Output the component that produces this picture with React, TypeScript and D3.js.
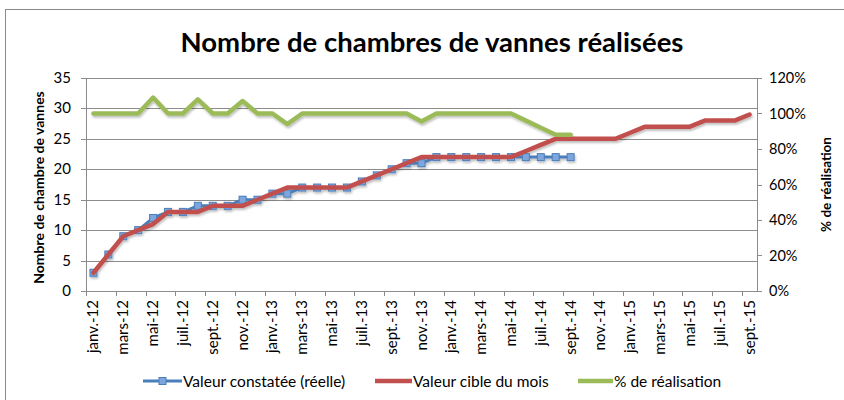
import React from "react";
import * as d3 from "d3";

const MONTHS = ["janv.", "févr.", "mars", "avr.", "mai", "juin", "juil.", "août", "sept.", "oct.", "nov.", "déc."];
const YEARS = ["12", "13", "14", "15"];
const N_MONTHS = 45;
const categories: string[] = [];
for (let i = 0; i < N_MONTHS; i++) categories.push(`${MONTHS[i % 12]}-${YEARS[Math.floor(i / 12)]}`);

const reelle = [3, 6, 9, 10, 12, 13, 13, 14, 14, 14, 15, 15, 16, 16, 17, 17, 17, 17, 18, 19, 20, 21, 21, 22, 22, 22, 22, 22, 22, 22, 22, 22, 22];
const cible = [3, 6, 9, 10, 11, 13, 13, 13, 14, 14, 14, 15, 16, 17, 17, 17, 17, 17, 18, 19, 20, 21, 22, 22, 22, 22, 22, 22, 22, 23, 24, 25, 25, 25, 25, 25, 26, 27, 27, 27, 27, 28, 28, 28, 29];
const realisation = [1.0, 1.0, 1.0, 1.0, 1.09, 1.0, 1.0, 1.08, 1.0, 1.0, 1.07, 1.0, 1.0, 0.94, 1.0, 1.0, 1.0, 1.0, 1.0, 1.0, 1.0, 1.0, 0.955, 1.0, 1.0, 1.0, 1.0, 1.0, 1.0, 0.96, 0.92, 0.88, 0.88];

const leftTicks = [0, 5, 10, 15, 20, 25, 30, 35];
const rightTicks = [0, 0.2, 0.4, 0.6, 0.8, 1.0, 1.2];

const W = 844, H = 400;
const L = 86, R = 757, T = 78, B = 291;
const FONT = "Lato, 'Open Sans', sans-serif";

export default function App() {
  const x = d3.scaleBand<number>().domain(d3.range(N_MONTHS)).range([L, R]).padding(0);
  const bw = x.bandwidth();
  const cx = (i: number) => (x(i) as number) + bw / 2;
  const yL = d3.scaleLinear().domain([0, 35]).range([B, T]);
  const yR = d3.scaleLinear().domain([0, 1.2]).range([B, T]);

  const lineL = d3.line<number>().x((_, i) => cx(i)).y((d) => yL(d));
  const lineR = d3.line<number>().x((_, i) => cx(i)).y((d) => yR(d));

  return (
    <svg width={W} height={H} style={{ position: "absolute", left: 0, top: 0, background: "#fff" }}>
      <defs>
        <filter id="sh" x="-10%" y="-10%" width="120%" height="140%">
          <feDropShadow dx="1" dy="2" stdDeviation="1.2" floodColor="#000" floodOpacity="0.25" />
        </filter>
      </defs>
      <rect x={0} y={0} width={W} height={H} fill="#fff" />
      <line x1={5} x2={W} y1={9.5} y2={9.5} stroke="#8a8a8a" strokeWidth={1} />
      <line x1={5.5} x2={5.5} y1={9} y2={H} stroke="#8a8a8a" strokeWidth={1} />

      <text x={432} y={52} textAnchor="middle" fontFamily={FONT} fontWeight={700} fontSize={27.5} fill="#000">
        Nombre de chambres de vannes réalisées
      </text>

      {/* gridlines */}
      {leftTicks.map((t) => (
        <line key={t} x1={L} x2={R} y1={Math.round(yL(t)) + 0.5} y2={Math.round(yL(t)) + 0.5} stroke="#8c8c8c" strokeWidth={1} />
      ))}

      {/* axes */}
      <line x1={L + 0.5} x2={L + 0.5} y1={T} y2={B} stroke="#8c8c8c" />
      <line x1={R + 0.5} x2={R + 0.5} y1={T} y2={B} stroke="#8c8c8c" />
      <line x1={L} x2={R} y1={B + 0.5} y2={B + 0.5} stroke="#8c8c8c" />

      {leftTicks.map((t) => (
        <g key={"l" + t}>
          <line x1={L - 5} x2={L} y1={Math.round(yL(t)) + 0.5} y2={Math.round(yL(t)) + 0.5} stroke="#8c8c8c" />
          <text x={L - 15} y={yL(t) + 5} textAnchor="end" fontFamily={FONT} fontSize={15} fill="#000">{t}</text>
        </g>
      ))}
      {rightTicks.map((t) => (
        <g key={"r" + t}>
          <line x1={R} x2={R + 5} y1={Math.round(yR(t)) + 0.5} y2={Math.round(yR(t)) + 0.5} stroke="#8c8c8c" />
          <text x={R + 12} y={yR(t) + 5} textAnchor="start" fontFamily={FONT} fontSize={14.5} fill="#000">{d3.format(".0%")(t)}</text>
        </g>
      ))}

      {/* x ticks and labels */}
      {d3.range(0, N_MONTHS + 1, 2).map((k) => {
        const xx = Math.round(L + k * bw) + 0.5;
        return <line key={"xt" + k} x1={xx} x2={xx} y1={B} y2={B + 5} stroke="#8c8c8c" />;
      })}
      {categories.map((c, i) =>
        i % 2 === 0 ? (
          <text key={"xl" + i} transform={`translate(${cx(i) + 5},${B + 9}) rotate(-90)`} textAnchor="end"
            fontFamily={FONT} fontSize={15} fill="#000">{c}</text>
        ) : null
      )}

      {/* axis titles */}
      <text transform={`translate(44,${(T + B) / 2 + 3}) rotate(-90)`} textAnchor="middle" fontFamily={FONT} fontWeight={700} fontSize={14} fill="#000">
        Nombre de chambre de vannes
      </text>
      <text transform={`translate(831,${(T + B) / 2}) rotate(-90)`} textAnchor="middle" fontFamily={FONT} fontWeight={700} fontSize={13.5} fill="#000">
        % de réalisation
      </text>

      {/* series */}
      <g filter="url(#sh)">
        <path d={lineL(reelle) || ""} fill="none" stroke="#4A7EBB" strokeWidth={3} strokeLinejoin="round" />
        {reelle.map((d, i) => (
          <rect key={"m" + i} x={cx(i) - 3.5} y={yL(d) - 3.5} width={7} height={7} fill="#7EA6DC" stroke="#4A7EBB" strokeWidth={1} />
        ))}
        <path d={lineL(cible) || ""} fill="none" stroke="#C0504D" strokeWidth={4.5} strokeLinejoin="round" strokeLinecap="round" />
        <path d={lineR(realisation) || ""} fill="none" stroke="#9BBB59" strokeWidth={4.5} strokeLinejoin="round" strokeLinecap="round" />
      </g>

      {/* legend */}
      <g fontFamily={FONT} fontSize={15.5} fill="#000">
        <line x1={143} x2={182} y1={381} y2={381} stroke="#4A7EBB" strokeWidth={3} />
        <rect x={159} y={377.5} width={7} height={7} fill="#7EA6DC" stroke="#4A7EBB" />
        <text x={183} y={386.5}>Valeur constatée (réelle)</text>
        <line x1={375} x2={412} y1={381} y2={381} stroke="#C0504D" strokeWidth={4.5} />
        <text x={413} y={386.5}>Valeur cible du mois</text>
        <line x1={578} x2={613} y1={381} y2={381} stroke="#9BBB59" strokeWidth={4.5} />
        <text x={614} y={386.5}>% de réalisation</text>
      </g>
    </svg>
  );
}
